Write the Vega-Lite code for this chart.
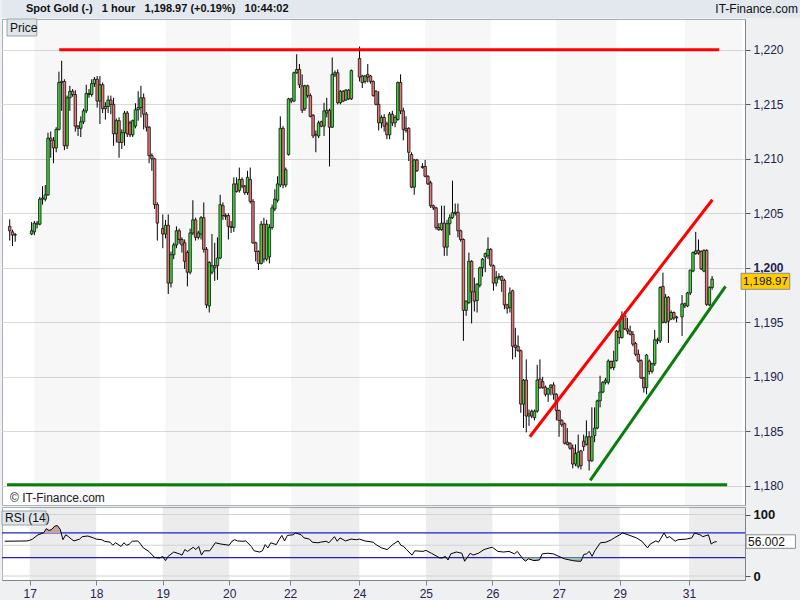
{
"$schema": "https://vega.github.io/schema/vega-lite/v6.json",
"padding": 0,
"spacing": 0,
"background": "#eef0f2",
"resolve": {"scale": {"color": "independent"}},
"config": {"font": "Liberation Sans", "view": {"stroke": null}, "axis": {"labelFont": "Liberation Sans", "labelFontSize": 12}, "text": {"font": "Liberation Sans"}},
"datasets": {
"candles": [
{"i":0,"o":1203.8,"h":1204.45,"l":1202.5,"c":1203.4},{"i":1,"o":1203.3,"h":1203.5,"l":1202.0,"c":1203.0},{"i":2,"o":1203.0,"h":1203.2,"l":1202.4,"c":1203.05},
{"i":8,"o":1203.1,"h":1204.2,"l":1203.0,"c":1203.4},{"i":9,"o":1203.3,"h":1204.3,"l":1203.0,"c":1204.1},{"i":10,"o":1204.1,"h":1204.3,"l":1203.6,"c":1204.0},{"i":11,"o":1204.0,"h":1206.5,"l":1203.9,"c":1206.3},{"i":12,"o":1206.3,"h":1207.5,"l":1205.8,"c":1206.4},{"i":13,"o":1206.3,"h":1207.6,"l":1206.1,"c":1206.7},{"i":14,"o":1206.7,"h":1212.4,"l":1206.6,"c":1211.9},{"i":15,"o":1211.9,"h":1212.5,"l":1210.1,"c":1211.7},{"i":16,"o":1211.7,"h":1212.0,"l":1209.6,"c":1211.0},{"i":17,"o":1211.0,"h":1212.9,"l":1210.6,"c":1212.7},{"i":18,"o":1212.7,"h":1218.0,"l":1212.6,"c":1217.0},{"i":19,"o":1217.0,"h":1219.0,"l":1214.4,"c":1217.1},{"i":20,"o":1217.1,"h":1217.3,"l":1210.8,"c":1211.2},{"i":21,"o":1211.2,"h":1215.8,"l":1210.9,"c":1215.6},{"i":22,"o":1215.6,"h":1216.7,"l":1214.4,"c":1216.2},{"i":23,"o":1216.2,"h":1216.4,"l":1215.7,"c":1215.9},{"i":24,"o":1215.9,"h":1216.3,"l":1212.5,"c":1213.0},{"i":25,"o":1213.0,"h":1213.1,"l":1212.1,"c":1212.8},{"i":26,"o":1212.8,"h":1213.9,"l":1212.0,"c":1213.4},{"i":27,"o":1213.4,"h":1214.6,"l":1213.2,"c":1214.4},{"i":28,"o":1214.4,"h":1216.8,"l":1214.2,"c":1216.0},{"i":29,"o":1216.0,"h":1216.4,"l":1215.6,"c":1215.9},{"i":30,"o":1215.9,"h":1217.3,"l":1215.7,"c":1216.9},{"i":31,"o":1216.9,"h":1217.5,"l":1216.6,"c":1217.3},{"i":32,"o":1217.3,"h":1217.6,"l":1214.7,"c":1215.3},
{"i":33,"o":1215.3,"h":1217.6,"l":1213.2,"c":1216.8},{"i":34,"o":1216.8,"h":1217.0,"l":1214.2,"c":1214.6},{"i":35,"o":1214.6,"h":1215.2,"l":1213.6,"c":1214.8},{"i":36,"o":1214.8,"h":1215.8,"l":1214.2,"c":1215.4},{"i":37,"o":1215.4,"h":1215.8,"l":1214.1,"c":1215.0},{"i":38,"o":1215.0,"h":1215.6,"l":1211.2,"c":1212.3},{"i":39,"o":1212.3,"h":1213.7,"l":1211.5,"c":1213.5},{"i":40,"o":1213.5,"h":1213.8,"l":1210.1,"c":1211.5},{"i":41,"o":1211.5,"h":1212.7,"l":1210.9,"c":1212.4},{"i":42,"o":1212.4,"h":1214.4,"l":1211.2,"c":1214.2},{"i":43,"o":1214.2,"h":1214.4,"l":1212.0,"c":1212.3},{"i":44,"o":1213.3,"h":1213.5,"l":1212.0,"c":1212.2},{"i":45,"o":1212.2,"h":1213.6,"l":1212.0,"c":1213.5},{"i":46,"o":1213.0,"h":1215.1,"l":1212.8,"c":1214.5},{"i":47,"o":1214.5,"h":1216.2,"l":1213.5,"c":1214.7},{"i":48,"o":1214.7,"h":1216.7,"l":1213.8,"c":1215.6},{"i":49,"o":1215.6,"h":1216.0,"l":1212.7,"c":1214.1},{"i":50,"o":1214.1,"h":1214.3,"l":1212.5,"c":1212.9},{"i":51,"o":1212.9,"h":1213.0,"l":1209.6,"c":1210.3},{"i":52,"o":1210.3,"h":1210.5,"l":1208.9,"c":1210.0},{"i":53,"o":1210.0,"h":1210.1,"l":1205.4,"c":1205.8},{"i":54,"o":1205.8,"h":1206.0,"l":1202.5,"c":1204.1},
{"i":56,"o":1203.6,"h":1204.9,"l":1201.8,"c":1203.1},{"i":57,"o":1203.1,"h":1204.4,"l":1202.7,"c":1203.9},{"i":58,"o":1203.9,"h":1204.9,"l":1197.6,"c":1198.6},{"i":59,"o":1198.6,"h":1201.5,"l":1198.2,"c":1201.2},{"i":60,"o":1201.2,"h":1202.3,"l":1200.8,"c":1202.1},{"i":61,"o":1202.1,"h":1203.8,"l":1201.8,"c":1203.4},{"i":62,"o":1203.4,"h":1203.6,"l":1202.2,"c":1202.6},{"i":63,"o":1202.6,"h":1202.8,"l":1201.4,"c":1202.1},{"i":64,"o":1202.3,"h":1202.6,"l":1199.9,"c":1200.6},{"i":65,"o":1201.4,"h":1201.6,"l":1198.3,"c":1199.6},{"i":66,"o":1199.6,"h":1203.6,"l":1199.4,"c":1203.2},{"i":67,"o":1203.2,"h":1206.2,"l":1203.0,"c":1204.4},{"i":68,"o":1204.4,"h":1204.6,"l":1202.5,"c":1202.8},{"i":69,"o":1202.8,"h":1203.4,"l":1202.6,"c":1203.2},{"i":70,"o":1203.1,"h":1204.75,"l":1202.6,"c":1204.6},{"i":71,"o":1204.6,"h":1206.0,"l":1201.4,"c":1201.7},{"i":72,"o":1201.7,"h":1201.9,"l":1196.3,"c":1196.6},{"i":73,"o":1196.5,"h":1200.6,"l":1195.9,"c":1200.5},{"i":74,"o":1199.6,"h":1203.1,"l":1199.4,"c":1200.2},{"i":75,"o":1200.2,"h":1202.3,"l":1198.8,"c":1200.0},{"i":76,"o":1200.2,"h":1202.8,"l":1198.9,"c":1200.9},{"i":77,"o":1200.9,"h":1206.7,"l":1200.8,"c":1205.8},{"i":78,"o":1205.7,"h":1206.0,"l":1204.4,"c":1204.8},{"i":79,"o":1204.8,"h":1205.0,"l":1204.4,"c":1204.7},{"i":80,"o":1204.8,"h":1205.0,"l":1202.6,"c":1203.8},
{"i":81,"o":1203.8,"h":1204.3,"l":1203.2,"c":1203.7},{"i":82,"o":1203.7,"h":1208.3,"l":1203.3,"c":1207.7},{"i":83,"o":1207.7,"h":1208.3,"l":1206.9,"c":1207.0},{"i":84,"o":1207.1,"h":1209.2,"l":1206.9,"c":1208.1},{"i":85,"o":1208.1,"h":1208.3,"l":1207.3,"c":1207.5},{"i":86,"o":1207.5,"h":1207.6,"l":1206.7,"c":1206.9},{"i":87,"o":1206.9,"h":1208.9,"l":1206.7,"c":1208.3},{"i":88,"o":1208.1,"h":1209.2,"l":1205.9,"c":1206.1},{"i":89,"o":1206.1,"h":1206.3,"l":1202.2,"c":1202.3},{"i":90,"o":1202.3,"h":1202.4,"l":1200.6,"c":1201.5},{"i":91,"o":1201.5,"h":1201.6,"l":1199.8,"c":1200.4},{"i":92,"o":1200.4,"h":1204.3,"l":1200.3,"c":1204.0},{"i":93,"o":1204.0,"h":1204.6,"l":1200.5,"c":1200.8},{"i":94,"o":1200.8,"h":1204.4,"l":1200.6,"c":1204.0},{"i":95,"o":1201.0,"h":1204.0,"l":1200.4,"c":1203.7},{"i":96,"o":1203.7,"h":1205.8,"l":1203.5,"c":1205.5},{"i":97,"o":1205.4,"h":1207.2,"l":1205.2,"c":1206.3},{"i":98,"o":1206.2,"h":1208.4,"l":1206.0,"c":1207.7},{"i":99,"o":1207.6,"h":1213.9,"l":1207.4,"c":1212.8},{"i":100,"o":1212.8,"h":1213.0,"l":1207.3,"c":1207.6},{"i":101,"o":1207.6,"h":1209.2,"l":1207.4,"c":1209.0},{"i":102,"o":1210.4,"h":1215.6,"l":1210.3,"c":1215.5},
{"i":103,"o":1215.5,"h":1215.6,"l":1215.1,"c":1215.3},{"i":104,"o":1215.3,"h":1218.0,"l":1215.2,"c":1217.9},{"i":105,"o":1217.9,"h":1219.6,"l":1217.8,"c":1218.2},{"i":106,"o":1218.2,"h":1218.7,"l":1216.5,"c":1216.8},{"i":107,"o":1216.7,"h":1217.75,"l":1214.2,"c":1214.45},{"i":108,"o":1214.6,"h":1216.8,"l":1214.4,"c":1216.7},{"i":109,"o":1216.7,"h":1216.8,"l":1215.6,"c":1215.8},{"i":110,"o":1215.8,"h":1216.0,"l":1213.8,"c":1213.9},{"i":111,"o":1214.0,"h":1214.1,"l":1211.9,"c":1212.1},{"i":112,"o":1212.2,"h":1212.6,"l":1210.6,"c":1212.25},{"i":113,"o":1212.1,"h":1213.5,"l":1211.9,"c":1213.3},{"i":114,"o":1213.4,"h":1213.5,"l":1212.9,"c":1213.0},{"i":115,"o":1213.0,"h":1215.15,"l":1212.1,"c":1214.4},{"i":116,"o":1214.2,"h":1215.6,"l":1213.8,"c":1214.45},{"i":117,"o":1214.45,"h":1214.6,"l":1209.3,"c":1212.9},{"i":118,"o":1212.9,"h":1219.3,"l":1212.85,"c":1217.75},{"i":119,"o":1217.7,"h":1218.1,"l":1217.5,"c":1217.9},{"i":120,"o":1217.9,"h":1218.2,"l":1215.0,"c":1215.15},{"i":121,"o":1215.15,"h":1216.3,"l":1215.0,"c":1216.2},{"i":122,"o":1216.2,"h":1216.3,"l":1215.2,"c":1215.3},{"i":123,"o":1215.4,"h":1216.4,"l":1215.3,"c":1216.3},{"i":124,"o":1216.3,"h":1216.4,"l":1215.4,"c":1215.5},{"i":125,"o":1215.5,"h":1218.2,"l":1215.4,"c":1218.1},
{"i":128,"o":1219.2,"h":1220.3,"l":1217.1,"c":1217.5},{"i":129,"o":1217.6,"h":1217.7,"l":1216.5,"c":1217.0},{"i":130,"o":1217.1,"h":1217.7,"l":1216.9,"c":1217.6},{"i":131,"o":1217.75,"h":1218.7,"l":1217.0,"c":1217.5},{"i":132,"o":1217.6,"h":1217.7,"l":1216.9,"c":1217.1},{"i":133,"o":1217.1,"h":1217.2,"l":1215.7,"c":1215.8},{"i":134,"o":1216.2,"h":1216.3,"l":1214.9,"c":1215.0},{"i":135,"o":1215.0,"h":1216.2,"l":1212.6,"c":1213.3},{"i":136,"o":1213.3,"h":1214.0,"l":1212.8,"c":1213.8},{"i":137,"o":1213.8,"h":1214.1,"l":1212.5,"c":1213.0},{"i":138,"o":1213.2,"h":1213.4,"l":1211.8,"c":1212.2},{"i":139,"o":1212.2,"h":1214.3,"l":1211.8,"c":1214.1},{"i":140,"o":1214.1,"h":1214.4,"l":1213.0,"c":1213.3},{"i":141,"o":1213.3,"h":1214.0,"l":1212.9,"c":1213.8},{"i":142,"o":1213.6,"h":1217.1,"l":1213.5,"c":1217.0},{"i":143,"o":1217.0,"h":1217.75,"l":1214.1,"c":1214.4},{"i":144,"o":1214.4,"h":1214.7,"l":1211.7,"c":1212.7},{"i":145,"o":1212.8,"h":1213.9,"l":1212.4,"c":1212.6},{"i":146,"o":1212.8,"h":1212.9,"l":1209.8,"c":1210.6},{"i":147,"o":1210.4,"h":1210.6,"l":1207.3,"c":1207.4},{"i":148,"o":1207.4,"h":1210.0,"l":1206.7,"c":1209.9},{"i":149,"o":1209.9,"h":1210.0,"l":1208.8,"c":1208.9},{"i":151,"o":1209.2,"h":1209.6,"l":1209.1,"c":1209.3},
{"i":152,"o":1209.3,"h":1209.9,"l":1208.3,"c":1208.4},{"i":153,"o":1208.4,"h":1208.5,"l":1207.6,"c":1207.7},{"i":154,"o":1207.8,"h":1208.0,"l":1205.5,"c":1205.7},{"i":155,"o":1205.7,"h":1205.8,"l":1205.3,"c":1205.5},{"i":156,"o":1205.5,"h":1205.6,"l":1203.5,"c":1203.7},{"i":157,"o":1203.7,"h":1204.1,"l":1203.4,"c":1203.5},{"i":158,"o":1203.5,"h":1205.7,"l":1203.4,"c":1204.1},{"i":159,"o":1204.1,"h":1205.7,"l":1201.1,"c":1201.9},{"i":160,"o":1201.9,"h":1204.4,"l":1201.1,"c":1204.05},{"i":161,"o":1204.05,"h":1204.9,"l":1203.0,"c":1204.6},{"i":162,"o":1204.6,"h":1208.0,"l":1204.5,"c":1205.05},{"i":163,"o":1205.1,"h":1205.9,"l":1204.8,"c":1205.0},{"i":164,"o":1205.1,"h":1205.9,"l":1202.8,"c":1203.4},{"i":165,"o":1203.4,"h":1203.5,"l":1202.4,"c":1202.6},{"i":166,"o":1202.6,"h":1202.7,"l":1193.3,"c":1196.1},{"i":167,"o":1196.1,"h":1197.0,"l":1195.6,"c":1196.95},{"i":168,"o":1196.8,"h":1201.4,"l":1196.7,"c":1200.6},{"i":169,"o":1200.6,"h":1200.7,"l":1194.9,"c":1197.8},{"i":170,"o":1197.8,"h":1199.1,"l":1196.0,"c":1196.95},{"i":171,"o":1197.0,"h":1198.6,"l":1195.9,"c":1198.5},{"i":172,"o":1198.4,"h":1200.1,"l":1198.2,"c":1200.0},{"i":173,"o":1200.0,"h":1200.9,"l":1199.2,"c":1200.8},{"i":174,"o":1201.0,"h":1201.4,"l":1199.6,"c":1201.3},{"i":175,"o":1201.1,"h":1202.8,"l":1200.8,"c":1201.7},
{"i":176,"o":1201.7,"h":1201.8,"l":1200.1,"c":1200.25},{"i":177,"o":1200.2,"h":1200.3,"l":1197.9,"c":1198.6},{"i":178,"o":1198.6,"h":1199.7,"l":1198.3,"c":1199.1},{"i":179,"o":1199.1,"h":1199.5,"l":1198.9,"c":1199.2},{"i":180,"o":1199.2,"h":1199.3,"l":1197.8,"c":1198.85},{"i":181,"o":1198.85,"h":1199.0,"l":1196.2,"c":1196.6},{"i":182,"o":1196.6,"h":1196.7,"l":1195.8,"c":1196.3},{"i":183,"o":1196.35,"h":1198.2,"l":1195.9,"c":1197.7},{"i":184,"o":1197.9,"h":1198.0,"l":1191.6,"c":1192.8},{"i":185,"o":1192.9,"h":1194.5,"l":1191.8,"c":1192.7},{"i":186,"o":1192.8,"h":1193.8,"l":1192.3,"c":1192.4},{"i":187,"o":1192.4,"h":1192.5,"l":1186.7,"c":1187.5},{"i":188,"o":1187.5,"h":1189.8,"l":1185.3,"c":1189.7},{"i":189,"o":1189.7,"h":1191.6,"l":1184.9,"c":1186.4},{"i":190,"o":1186.4,"h":1187.0,"l":1185.5,"c":1186.6},{"i":191,"o":1186.85,"h":1187.0,"l":1186.2,"c":1186.4},{"i":192,"o":1186.25,"h":1187.0,"l":1186.0,"c":1186.85},{"i":193,"o":1186.85,"h":1191.1,"l":1186.7,"c":1189.7},{"i":194,"o":1189.8,"h":1191.6,"l":1188.9,"c":1189.0},{"i":195,"o":1189.55,"h":1190.0,"l":1188.9,"c":1189.0},{"i":196,"o":1189.05,"h":1189.2,"l":1188.2,"c":1188.4},{"i":197,"o":1188.4,"h":1189.0,"l":1187.7,"c":1188.9},{"i":198,"o":1189.0,"h":1189.3,"l":1188.3,"c":1189.25},{"i":199,"o":1189.25,"h":1189.5,"l":1187.9,"c":1188.4},
{"i":200,"o":1188.4,"h":1188.5,"l":1186.0,"c":1186.9},{"i":201,"o":1186.9,"h":1187.0,"l":1184.5,"c":1186.0},{"i":202,"o":1186.0,"h":1186.1,"l":1185.4,"c":1185.6},{"i":203,"o":1185.7,"h":1185.8,"l":1183.8,"c":1183.9},{"i":204,"o":1184.0,"h":1185.3,"l":1183.7,"c":1183.8},{"i":205,"o":1183.9,"h":1184.0,"l":1183.3,"c":1183.45},{"i":206,"o":1183.45,"h":1183.8,"l":1181.6,"c":1182.0},{"i":207,"o":1182.0,"h":1183.8,"l":1181.8,"c":1182.95},{"i":208,"o":1181.8,"h":1184.7,"l":1181.6,"c":1183.1},{"i":209,"o":1183.2,"h":1183.3,"l":1181.5,"c":1181.85},{"i":210,"o":1184.1,"h":1184.7,"l":1183.2,"c":1183.6},{"i":211,"o":1183.8,"h":1186.0,"l":1183.7,"c":1184.5},{"i":212,"o":1184.5,"h":1185.0,"l":1181.4,"c":1182.3},{"i":213,"o":1182.3,"h":1187.2,"l":1182.2,"c":1184.5},{"i":214,"o":1184.6,"h":1187.2,"l":1184.0,"c":1185.3},{"i":215,"o":1185.3,"h":1187.9,"l":1185.2,"c":1187.8},{"i":216,"o":1187.8,"h":1190.1,"l":1187.2,"c":1188.6},{"i":217,"o":1188.6,"h":1189.6,"l":1188.5,"c":1189.5},{"i":218,"o":1189.5,"h":1189.9,"l":1189.3,"c":1189.7},{"i":219,"o":1189.5,"h":1191.6,"l":1189.3,"c":1191.45},{"i":220,"o":1191.4,"h":1191.5,"l":1190.7,"c":1190.85},{"i":221,"o":1190.85,"h":1192.4,"l":1190.6,"c":1191.45},
{"i":222,"o":1191.5,"h":1194.3,"l":1191.4,"c":1194.2},{"i":223,"o":1194.2,"h":1195.3,"l":1193.0,"c":1193.6},{"i":224,"o":1193.6,"h":1196.0,"l":1193.5,"c":1195.6},{"i":225,"o":1195.6,"h":1196.0,"l":1194.3,"c":1194.4},{"i":226,"o":1194.4,"h":1195.4,"l":1193.9,"c":1194.2},{"i":227,"o":1194.2,"h":1194.7,"l":1193.8,"c":1193.9},{"i":228,"o":1193.9,"h":1194.2,"l":1192.8,"c":1193.0},{"i":229,"o":1193.05,"h":1193.2,"l":1191.9,"c":1192.07},{"i":230,"o":1192.07,"h":1192.5,"l":1191.3,"c":1191.45},{"i":231,"o":1191.5,"h":1191.6,"l":1189.8,"c":1189.9},{"i":232,"o":1189.9,"h":1190.0,"l":1188.55,"c":1189.0},{"i":233,"o":1189.0,"h":1192.1,"l":1188.4,"c":1192.0},{"i":234,"o":1191.45,"h":1191.6,"l":1190.2,"c":1190.5},{"i":235,"o":1190.5,"h":1191.3,"l":1190.3,"c":1191.2},{"i":236,"o":1191.2,"h":1194.3,"l":1191.0,"c":1193.4},{"i":237,"o":1193.4,"h":1193.6,"l":1193.0,"c":1193.3},{"i":238,"o":1193.3,"h":1198.3,"l":1193.1,"c":1198.2},{"i":239,"o":1198.3,"h":1199.56,"l":1194.9,"c":1195.0},{"i":240,"o":1195.0,"h":1197.6,"l":1194.9,"c":1197.3},{"i":241,"o":1197.3,"h":1197.4,"l":1193.1,"c":1195.1},{"i":242,"o":1195.3,"h":1196.1,"l":1195.2,"c":1195.9},{"i":243,"o":1195.9,"h":1196.0,"l":1195.2,"c":1195.4},{"i":244,"o":1195.4,"h":1195.6,"l":1195.0,"c":1195.5},{"i":246,"o":1195.5,"h":1197.5,"l":1193.75,"c":1196.7},
{"i":247,"o":1196.7,"h":1196.8,"l":1196.3,"c":1196.5},{"i":248,"o":1196.5,"h":1197.8,"l":1196.4,"c":1197.7},{"i":249,"o":1197.7,"h":1199.8,"l":1197.5,"c":1199.8},{"i":250,"o":1199.7,"h":1201.5,"l":1199.6,"c":1201.4},{"i":251,"o":1201.3,"h":1203.3,"l":1201.2,"c":1201.55},{"i":252,"o":1201.6,"h":1202.6,"l":1201.2,"c":1201.35},{"i":253,"o":1201.5,"h":1201.6,"l":1199.8,"c":1199.9},{"i":254,"o":1199.7,"h":1201.7,"l":1199.6,"c":1201.6},{"i":255,"o":1201.6,"h":1201.7,"l":1196.5,"c":1196.65},{"i":256,"o":1196.6,"h":1198.3,"l":1196.5,"c":1198.2},{"i":257,"o":1198.2,"h":1199.25,"l":1198.0,"c":1198.97}
],
"rsi": [
{"i":0,"rsi":56.5},{"i":8,"rsi":57},{"i":9,"rsi":58},{"i":10,"rsi":60},{"i":12,"rsi":67},{"i":14,"rsi":70},{"i":15,"rsi":77},{"i":16,"rsi":74},{"i":17,"rsi":76},{"i":18,"rsi":81},{"i":19,"rsi":82},{"i":20,"rsi":76},{"i":21,"rsi":59},{"i":22,"rsi":67},{"i":23,"rsi":64},{"i":24,"rsi":60},{"i":25,"rsi":57},{"i":27,"rsi":60},{"i":28,"rsi":64},{"i":30,"rsi":65},{"i":32,"rsi":62},{"i":33,"rsi":60},{"i":35,"rsi":59},{"i":36,"rsi":56.5},{"i":38,"rsi":55},{"i":39,"rsi":50},{"i":40,"rsi":54},{"i":42,"rsi":48},{"i":43,"rsi":54},{"i":44,"rsi":50},{"i":45,"rsi":52},{"i":46,"rsi":56.5},{"i":48,"rsi":57},{"i":49,"rsi":52},{"i":50,"rsi":45.7},{"i":52,"rsi":40},{"i":54,"rsi":30.5},{"i":55,"rsi":29.4},{"i":56,"rsi":29.4},{"i":57,"rsi":32},{"i":58,"rsi":25},{"i":59,"rsi":32},{"i":61,"rsi":39},{"i":63,"rsi":36},{"i":64,"rsi":34},{"i":65,"rsi":43},{"i":66,"rsi":40},{"i":68,"rsi":46.7},{"i":69,"rsi":43},{"i":70,"rsi":48},{"i":71,"rsi":34},{"i":72,"rsi":41},{"i":74,"rsi":41},{"i":76,"rsi":54},{"i":78,"rsi":52},{"i":81,"rsi":50},{"i":82,"rsi":56.5},{"i":83,"rsi":59},{"i":84,"rsi":57},{"i":86,"rsi":56.5},{"i":87,"rsi":57},{"i":89,"rsi":48},{"i":90,"rsi":41},{"i":92,"rsi":39},{"i":93,"rsi":41},{"i":94,"rsi":51},{"i":95,"rsi":45.7},{"i":96,"rsi":54},{"i":98,"rsi":51},{"i":99,"rsi":59},{"i":100,"rsi":66},{"i":101,"rsi":57},{"i":102,"rsi":66},{"i":104,"rsi":67},{"i":105,"rsi":70},{"i":107,"rsi":67},{"i":108,"rsi":62},{"i":110,"rsi":60},{"i":111,"rsi":55},{"i":113,"rsi":54},{"i":114,"rsi":55},{"i":116,"rsi":56.5},{"i":117,"rsi":54},{"i":119,"rsi":64},{"i":120,"rsi":56.5},{"i":121,"rsi":62},{"i":123,"rsi":57},{"i":125,"rsi":60},{"i":127,"rsi":59},{"i":128,"rsi":60},{"i":130,"rsi":57},{"i":133,"rsi":55},{"i":134,"rsi":51},{"i":136,"rsi":45.7},{"i":138,"rsi":43},{"i":139,"rsi":46.7},{"i":140,"rsi":51},{"i":142,"rsi":57},{"i":143,"rsi":50},{"i":144,"rsi":48},{"i":145,"rsi":43},{"i":147,"rsi":34},{"i":148,"rsi":41},{"i":151,"rsi":40},{"i":152,"rsi":41.7},{"i":154,"rsi":37},{"i":157,"rsi":29.4},{"i":158,"rsi":29.4},{"i":159,"rsi":32},{"i":160,"rsi":26},{"i":161,"rsi":36},{"i":163,"rsi":39},{"i":165,"rsi":37},{"i":166,"rsi":24},{"i":167,"rsi":30.5},{"i":168,"rsi":37},{"i":169,"rsi":34},{"i":171,"rsi":37},{"i":173,"rsi":43},{"i":175,"rsi":45.7},{"i":176,"rsi":46.7},{"i":178,"rsi":40},{"i":180,"rsi":39},{"i":182,"rsi":40},{"i":184,"rsi":36},{"i":185,"rsi":40},{"i":187,"rsi":28},{"i":188,"rsi":24},{"i":189,"rsi":28},{"i":191,"rsi":25},{"i":193,"rsi":26},{"i":194,"rsi":36},{"i":196,"rsi":37},{"i":198,"rsi":36},{"i":200,"rsi":32},{"i":202,"rsi":28},{"i":205,"rsi":25},{"i":207,"rsi":24},{"i":208,"rsi":24},{"i":209,"rsi":35},{"i":210,"rsi":36},{"i":211,"rsi":40},{"i":212,"rsi":32},{"i":213,"rsi":41},{"i":215,"rsi":54},{"i":217,"rsi":55},{"i":219,"rsi":59},{"i":220,"rsi":62},{"i":222,"rsi":67},{"i":223,"rsi":70},{"i":225,"rsi":67},{"i":228,"rsi":62},{"i":230,"rsi":56.5},{"i":232,"rsi":45.7},{"i":233,"rsi":52},{"i":235,"rsi":57},{"i":236,"rsi":55},{"i":238,"rsi":70},{"i":239,"rsi":62},{"i":240,"rsi":64},{"i":242,"rsi":56.5},{"i":243,"rsi":59},{"i":246,"rsi":60},{"i":248,"rsi":62},{"i":249,"rsi":70},{"i":251,"rsi":67},{"i":252,"rsi":64},{"i":254,"rsi":67},{"i":255,"rsi":52},{"i":256,"rsi":55},{"i":257,"rsi":56.002}
],
"rsizones": [
{"zone":"over","seg":"a","i":14,"v":70},{"zone":"over","seg":"a","i":15,"v":77},{"zone":"over","seg":"a","i":16,"v":74},{"zone":"over","seg":"a","i":17,"v":76},{"zone":"over","seg":"a","i":18,"v":81},{"zone":"over","seg":"a","i":19,"v":82},{"zone":"over","seg":"a","i":20,"v":76},{"zone":"over","seg":"a","i":20.4,"v":70},
{"zone":"under","seg":"b","i":159.3,"v":30},{"zone":"under","seg":"b","i":160,"v":26},{"zone":"under","seg":"b","i":160.4,"v":30},
{"zone":"under","seg":"c","i":165.6,"v":30},{"zone":"under","seg":"c","i":166,"v":24},{"zone":"under","seg":"c","i":166.9,"v":30},
{"zone":"under","seg":"d","i":186.4,"v":30},{"zone":"under","seg":"d","i":187,"v":28},{"zone":"under","seg":"d","i":188,"v":24},{"zone":"under","seg":"d","i":189,"v":28},{"zone":"under","seg":"d","i":191,"v":25},{"zone":"under","seg":"d","i":193,"v":26},{"zone":"under","seg":"d","i":193.4,"v":30},
{"zone":"under","seg":"e","i":200.5,"v":30},{"zone":"under","seg":"e","i":202,"v":28},{"zone":"under","seg":"e","i":205,"v":25},{"zone":"under","seg":"e","i":207,"v":24},{"zone":"under","seg":"e","i":208,"v":24},{"zone":"under","seg":"e","i":208.5,"v":30}
],
"days": [
{"day":"17","start":9,"end":33},{"day":"19","start":57,"end":81},{"day":"22","start":103,"end":128},{"day":"25","start":152,"end":176},{"day":"27","start":200,"end":222},{"day":"31","start":247,"end":268}
],
"trend": [
{"line":"resistance","i":18.1,"p":1220},{"line":"resistance","i":259.6,"p":1220},
{"line":"support","i":-1,"p":1180.1},{"line":"support","i":262.5,"p":1180.1},
{"line":"channel top","i":190.3,"p":1184.5},{"line":"channel top","i":257.1,"p":1206.25},
{"line":"channel bottom","i":212.4,"p":1180.5},{"line":"channel bottom","i":261.9,"p":1198.3}
],
"rsilines": [
{"level":100,"kind":"grid"},{"level":50,"kind":"grid"},{"level":0,"kind":"grid"},{"level":70,"kind":"signal"},{"level":30,"kind":"signal"}
],
"header": [
{"label":"Spot Gold (-)\u00a0\u00a0\u00a01 hour\u00a0\u00a0\u00a01,198.97 (+0.19%)\u00a0\u00a0\u00a010:44:02","side":"left"},
{"label":"IT-Finance.com","side":"right"}
]
},
"vconcat": [
{
"width": 800, "height": 18,
"view": {"fill": "#e2e8ed", "stroke": null},
"data": {"name": "header"},
"layer": [
{"transform": [{"filter": "datum.side == 'left'"}],
 "mark": {"type": "text", "align": "left", "baseline": "middle", "fontSize": 11, "fontWeight": "bold", "color": "#111111"},
 "encoding": {"x": {"field": "side", "type": "nominal", "scale": {"type": "point", "domain": ["left", "right"], "range": [24, 796], "padding": 0}, "axis": null}, "text": {"field": "label"}}},
{"transform": [{"filter": "datum.side == 'right'"}],
 "mark": {"type": "text", "align": "right", "baseline": "middle", "fontSize": 12, "color": "#111111"},
 "encoding": {"x": {"field": "side", "type": "nominal", "axis": null}, "text": {"field": "label"}}}
]
},
{
"width": 743, "height": 486,
"view": {"fill": "#ffffff", "stroke": "#a9b1b9"},
"layer": [
{"data": {"name": "days"},
 "mark": {"type": "rect", "color": "#000000", "opacity": 0.03, "clip": true},
 "encoding": {"x": {"field": "start", "type": "quantitative", "scale": {"domain": [-1, 267.2], "nice": false, "zero": false}, "axis": null}, "x2": {"field": "end"}}},
{"data": {"name": "candles"},
 "mark": {"type": "rule", "color": "#000000", "strokeWidth": 1},
 "encoding": {
  "x": {"field": "i", "type": "quantitative", "axis": null},
  "y": {"field": "l", "type": "quantitative", "title": null, "scale": {"domain": [1178.24, 1222.83], "nice": false, "zero": false},
        "axis": {"orient": "right", "values": [1180, 1185, 1190, 1195, 1200, 1205, 1210, 1215, 1220], "format": ",.0f", "title": null, "grid": true, "gridColor": "#dadada", "tickSize": 5, "tickColor": "#555555", "domainColor": "#7d858d", "labelPadding": 3, "labelColor": "#22224a", "labelFontSize": 12, "labelFontWeight": {"condition": {"test": "datum.value == 1200", "value": "bold"}, "value": "normal"}}},
  "y2": {"field": "h"}}},
{"data": {"name": "candles"},
 "mark": {"type": "bar", "width": 2.5, "stroke": "#111111", "strokeWidth": 0.8},
 "encoding": {
  "x": {"field": "i", "type": "quantitative", "axis": null},
  "y": {"field": "o", "type": "quantitative", "title": null},
  "y2": {"field": "c"},
  "fill": {"condition": {"test": "datum.c > datum.o", "value": "#3cd83c"}, "value": "#ea7474"}}},
{"data": {"name": "trend"},
 "mark": {"type": "line", "strokeWidth": 3, "clip": true},
 "encoding": {
  "x": {"field": "i", "type": "quantitative", "axis": null},
  "y": {"field": "p", "type": "quantitative", "title": null},
  "detail": {"field": "line"},
  "color": {"field": "line", "type": "nominal", "scale": {"domain": ["resistance", "support", "channel top", "channel bottom"], "range": ["#ff0000", "#0b7d0b", "#ff0000", "#0b7d0b"]}, "legend": null}}},
{"data": {"values": [{"label": "Price"}]},
 "mark": {"type": "rect", "fill": "#dfe5ea", "stroke": "#9aa4ae", "strokeWidth": 1},
 "encoding": {"x": {"datum": -1, "type": "quantitative", "axis": null}, "x2": {"datum": 9.9}, "y": {"datum": 1222.83, "type": "quantitative", "title": null}, "y2": {"datum": 1221.27}}},
{"data": {"values": [{"label": "Price"}]},
 "mark": {"type": "text", "align": "left", "baseline": "middle", "dx": 3, "fontSize": 12, "color": "#111111"},
 "encoding": {"x": {"datum": -1, "type": "quantitative", "axis": null}, "y": {"datum": 1222.05, "type": "quantitative", "title": null}, "text": {"field": "label"}}},
{"data": {"values": [{"label": "\u00a9 IT-Finance.com"}]},
 "mark": {"type": "text", "align": "left", "baseline": "middle", "dx": 3, "fontSize": 12, "color": "#222222"},
 "encoding": {"x": {"datum": -1, "type": "quantitative", "axis": null}, "y": {"datum": 1178.88, "type": "quantitative", "title": null}, "text": {"field": "label"}}},
{"data": {"values": [{"label": "1,198.97"}]},
 "mark": {"type": "rect", "fill": "#ffcc00", "stroke": "#8c8c8c", "strokeWidth": 1},
 "encoding": {"x": {"datum": 267.6, "type": "quantitative", "axis": null}, "x2": {"datum": 285.4}, "y": {"datum": 1199.5, "type": "quantitative", "title": null}, "y2": {"datum": 1198.03}}},
{"data": {"values": [{"label": "1,198.97"}]},
 "mark": {"type": "text", "align": "left", "baseline": "middle", "dx": 2, "fontSize": 11.5, "color": "#111111"},
 "encoding": {"x": {"datum": 267.6, "type": "quantitative", "axis": null}, "y": {"datum": 1198.72, "type": "quantitative", "title": null}, "text": {"field": "label"}}}
]
},
{
"width": 743, "height": 73,
"view": {"fill": "#ffffff", "stroke": "#a9b1b9"},
"layer": [
{"data": {"name": "days"},
 "mark": {"type": "rect", "color": "#000000", "opacity": 0.075, "clip": true},
 "encoding": {"x": {"field": "start", "type": "quantitative", "scale": {"domain": [-1, 267.2], "nice": false, "zero": false},
   "axis": {"orient": "bottom", "values": [9, 33, 57, 81, 103, 128, 152, 176, 200, 222, 247], "labelExpr": "datum.value==9?'17':datum.value==33?'18':datum.value==57?'19':datum.value==81?'20':datum.value==103?'22':datum.value==128?'24':datum.value==152?'25':datum.value==176?'26':datum.value==200?'27':datum.value==222?'29':'31'", "title": null, "grid": false, "tickSize": 5, "labelPadding": 3, "labelFontSize": 12, "labelColor": "#2a2250", "domainColor": "#7d858d", "tickColor": "#7d858d", "labelFlush": false}},
  "x2": {"field": "end"}}},
{"data": {"name": "rsilines"},
 "transform": [{"filter": "datum.kind == 'grid'"}],
 "mark": {"type": "rule", "strokeWidth": 1, "color": "#d2d2d2"},
 "encoding": {
  "y": {"field": "level", "type": "quantitative", "title": null, "scale": {"domain": [-6.5, 112.2], "nice": false, "zero": false},
        "axis": {"orient": "right", "values": [0, 100], "title": null, "grid": false, "tickSize": 5, "tickColor": "#555555", "domainColor": "#7d858d", "labelFontWeight": "bold", "labelFontSize": 13, "labelColor": "#111111", "labelPadding": 3}}}},
{"data": {"name": "rsilines"},
 "transform": [{"filter": "datum.kind == 'signal'"}],
 "mark": {"type": "rule", "strokeWidth": 1.2, "color": "#2020c8"},
 "encoding": {"y": {"field": "level", "type": "quantitative", "title": null}}},
{"data": {"name": "rsizones"},
 "transform": [{"filter": "datum.zone == 'over'"}],
 "mark": {"type": "area", "color": "#c9a0a0", "opacity": 1},
 "encoding": {"x": {"field": "i", "type": "quantitative", "title": null}, "y": {"field": "v", "type": "quantitative", "title": null}, "y2": {"datum": 70}, "detail": {"field": "seg"}}},
{"data": {"name": "rsizones"},
 "transform": [{"filter": "datum.zone == 'under'"}],
 "mark": {"type": "area", "color": "#9fc2a8", "opacity": 1},
 "encoding": {"x": {"field": "i", "type": "quantitative", "title": null}, "y": {"field": "v", "type": "quantitative", "title": null}, "y2": {"datum": 30}, "detail": {"field": "seg"}}},
{"data": {"name": "rsi"},
 "mark": {"type": "line", "color": "#000000", "strokeWidth": 1},
 "encoding": {"x": {"field": "i", "type": "quantitative", "title": null}, "y": {"field": "rsi", "type": "quantitative", "title": null}}},
{"data": {"values": [{"label": "RSI (14)"}]},
 "mark": {"type": "rect", "fill": "#dfe5ea", "stroke": "#9aa4ae", "strokeWidth": 1},
 "encoding": {"x": {"datum": -1, "type": "quantitative", "title": null}, "x2": {"datum": 14.9}, "y": {"datum": 105.7, "type": "quantitative", "title": null}, "y2": {"datum": 82.9}}},
{"data": {"values": [{"label": "RSI (14)"}]},
 "mark": {"type": "text", "align": "left", "baseline": "middle", "dx": 3, "fontSize": 12, "color": "#111111"},
 "encoding": {"x": {"datum": -1, "type": "quantitative", "title": null}, "y": {"datum": 94.3, "type": "quantitative", "title": null}, "text": {"field": "label"}}},
{"data": {"values": [{"label": "56.002"}]},
 "mark": {"type": "rect", "fill": "#ffffff", "stroke": "#8c8c8c", "strokeWidth": 1},
 "encoding": {"x": {"datum": 267.6, "type": "quantitative", "title": null}, "x2": {"datum": 285.4}, "y": {"datum": 67, "type": "quantitative", "title": null}, "y2": {"datum": 45}}},
{"data": {"values": [{"label": "56.002"}]},
 "mark": {"type": "text", "align": "left", "baseline": "middle", "dx": 2, "fontSize": 12, "color": "#111111"},
 "encoding": {"x": {"datum": 267.6, "type": "quantitative", "title": null}, "y": {"datum": 56.002, "type": "quantitative", "title": null}, "text": {"field": "label"}}}
]
}
]
}
